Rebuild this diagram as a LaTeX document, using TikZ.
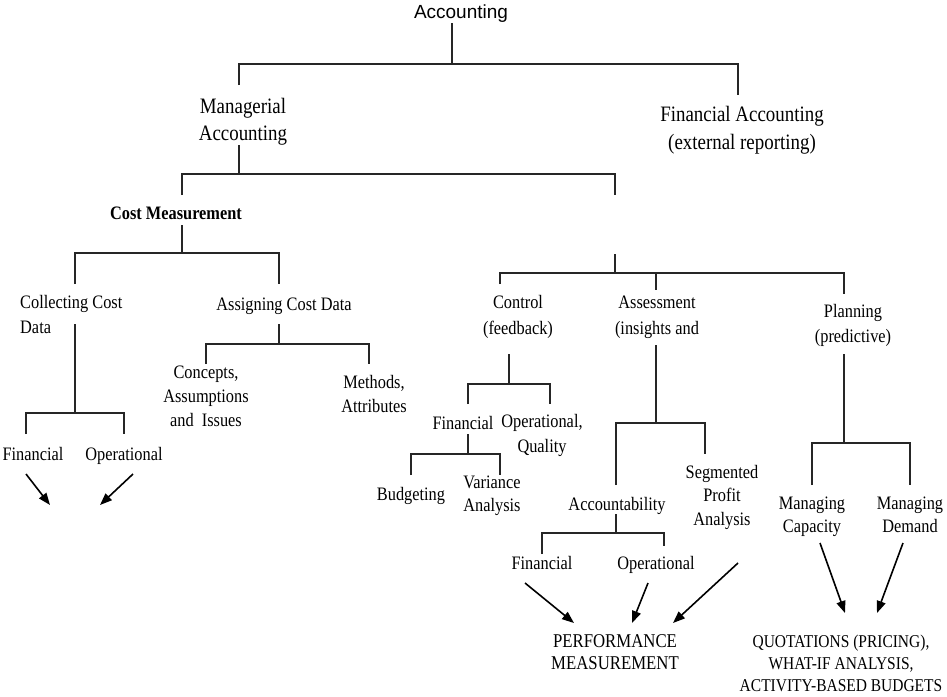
\documentclass[tikz,border=0pt]{standalone}
\usepackage{fontspec}
\usetikzlibrary{arrows.meta}
\newfontfamily\tnr[FakeStretch=0.86]{Liberation Serif}
\newfontfamily\arl{Liberation Sans}
\newcommand\mystt{\rule[-0.2em]{0pt}{1.06em}}
\begin{document}
\begin{tikzpicture}[x=1pt,y=-1pt,
  txt/.style={inner sep=0pt, align=center, font=\tnr\fontsize{19}{25}\selectfont,
    execute at begin node=\mystt, execute at end node=\mystt},
  bigtxt/.style={txt, font=\tnr\fontsize{22}{27.5}\selectfont},
  captxt/.style={txt, font=\tnr\fontsize{19.5}{22}\selectfont},
  ln/.style={line width=1.6pt, draw=black!85},
  arr/.style={line width=1.6pt, -{Triangle[length=12pt,width=9pt]}}]
\useasboundingbox (0,0) rectangle (947,696);

% nodes
\node[inner sep=0pt, font=\arl\fontsize{19}{23}\selectfont] (acc) at (461,14) {Accounting};
\node[bigtxt] (mgr) at (243,121.5) {Managerial\\Accounting};
\node[bigtxt] (fin) at (742,130) {Financial Accounting\\(external reporting)};
\node[txt, font=\tnr\bfseries\fontsize{19}{25}\selectfont] (cost) at (176,213) {Cost Measurement};
\node[txt, align=left, anchor=west] (coll) at (20,316.5) {Collecting Cost\\Data};
\node[txt] (asgn) at (284,304) {Assigning Cost Data};
\node[txt, font=\tnr\fontsize{19}{24}\selectfont] (conc) at (206,398) {Concepts,\\Assumptions\\and~~Issues};
\node[txt, font=\tnr\fontsize{19}{24}\selectfont] (meth) at (374,396) {Methods,\\Attributes};
\node[txt] (cfin) at (33,454) {Financial};
\node[txt] (cop) at (124,454) {Operational};
\node[txt, font=\tnr\fontsize{19}{26}\selectfont] (ctrl) at (518,317) {Control\\(feedback)};
\node[txt, font=\tnr\fontsize{19}{26}\selectfont] (assm) at (657,317) {Assessment\\(insights and};
\node[txt] (plan) at (853,325.5) {Planning\\(predictive)};
\node[txt] (kfin) at (463,423) {Financial};
\node[txt] (kop) at (542,435.5) {Operational,\\Quality};
\node[txt] (budg) at (411,494) {Budgeting};
\node[txt, font=\tnr\fontsize{19}{23}\selectfont] (var) at (492,495.5) {Variance\\Analysis};
\node[txt] (accb) at (617,504) {Accountability};
\node[txt, font=\tnr\fontsize{19}{23.5}\selectfont] (seg) at (722,497) {Segmented\\Profit\\Analysis};
\node[txt] (afin) at (542,563) {Financial};
\node[txt] (aop) at (656,563) {Operational};
\node[captxt] (perf) at (615,654) {PERFORMANCE\\MEASUREMENT};
\node[txt, font=\tnr\fontsize{19}{23}\selectfont] (mcap) at (812,516.5) {Managing\\Capacity};
\node[txt, font=\tnr\fontsize{19}{23}\selectfont] (mdem) at (910,516.5) {Managing\\Demand};
\node[txt, font=\tnr\fontsize{18}{22}\selectfont] (quot) at (841,665) {QUOTATIONS (PRICING),\\WHAT-IF ANALYSIS,\\ACTIVITY-BASED BUDGETS};

% tree lines
\draw[ln] (452,23) -- (452,64);
\draw[ln] (239,85) -- (239,64) -- (738,64) -- (738,95);
\draw[ln] (239,145) -- (239,174);
\draw[ln] (182,195) -- (182,174) -- (615,174) -- (615,195);
\draw[ln] (615,254) -- (615,273);
\draw[ln] (500,284) -- (500,273) -- (844,273) -- (844,294);
\draw[ln] (656,273) -- (656,290);
\draw[ln] (182,225) -- (182,253);
\draw[ln] (75,284) -- (75,253) -- (279,253) -- (279,284);
\draw[ln] (75,324) -- (75,413);
\draw[ln] (26,434) -- (26,413) -- (124,413) -- (124,434);
\draw[ln] (279,324) -- (279,344);
\draw[ln] (206,364) -- (206,344) -- (369,344) -- (369,364);
\draw[ln] (509,354) -- (509,384);
\draw[ln] (468,404) -- (468,384) -- (550,384) -- (550,404);
\draw[ln] (468,434) -- (468,454);
\draw[ln] (411,475) -- (411,454) -- (500,454) -- (500,475);
\draw[ln] (656,345) -- (656,423);
\draw[ln] (616,485) -- (616,423) -- (705,423) -- (705,454);
\draw[ln] (616,514) -- (616,533);
\draw[ln] (542,554) -- (542,533) -- (664,533) -- (664,546);
\draw[ln] (844,354) -- (844,443);
\draw[ln] (812,485) -- (812,443) -- (910,443) -- (910,485);

% arrows
\draw[arr] (26,474) -- (50,505);
\draw[arr] (133,474) -- (100,505);
\draw[arr] (525,583) -- (574,623);
\draw[arr] (648,583) -- (632,623);
\draw[arr] (738,563) -- (673,623);
\draw[arr] (820,543) -- (845,613);
\draw[arr] (903,543) -- (877,613);
\end{tikzpicture}
\end{document}
